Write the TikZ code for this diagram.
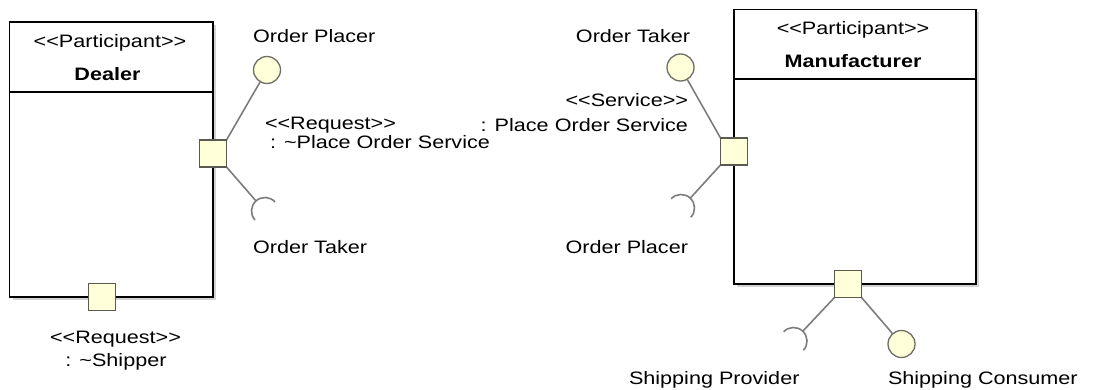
\documentclass[tikz,border=0pt]{standalone}
\usepackage{fontspec}
\newfontfamily\lsans{Liberation Sans}
\usetikzlibrary{shadows}
\definecolor{portfill}{HTML}{FFFFDA}
\definecolor{portdraw}{HTML}{5A5A52}
\definecolor{ifacedraw}{HTML}{6E6E66}
\definecolor{connc}{HTML}{7C7C7C}
\begin{document}
\begin{tikzpicture}[x=1pt,y=1pt,
  lbl/.style={font=\lsans\fontsize{18}{21}\selectfont, xscale=1.2, inner sep=0pt, outer sep=0pt},
  blbl/.style={font=\lsans\bfseries\fontsize{18}{21}\selectfont, xscale=1.2, inner sep=0pt, outer sep=0pt},
  partbox/.style={draw=black, line width=1.8pt, fill=white, inner sep=0pt, outer sep=0pt,
    drop shadow={shadow xshift=3pt, shadow yshift=-3pt, opacity=0.35}},
  sepline/.style={draw=black, line width=1.8pt},
  port/.style={draw=portdraw, line width=1.3pt, fill=portfill, minimum size=27pt, inner sep=0pt, outer sep=0pt},
  iface/.style={circle, draw=ifacedraw, line width=1.3pt, fill=portfill, minimum size=27pt, inner sep=0pt, outer sep=0pt},
  conn/.style={draw=connc, line width=1.6pt}
]
\useasboundingbox (0,0) rectangle (1094,-390);

% participant boxes
\node[partbox, minimum width=203.5, minimum height=275] (dealer) at (111.25,-159.5) {};
\draw[sepline] (dealer.west |- 0,-92) -- (dealer.east |- 0,-92);
\node[partbox, minimum width=242, minimum height=274.5] (manu) at (855,-146.75) {};
\draw[sepline] (manu.west |- 0,-79) -- (manu.east |- 0,-79);

\node[lbl, anchor=base] (dst) at (110,-48) {<<Participant>>};
\node[blbl, anchor=base] (dname) at (107.5,-81) {Dealer};
\node[lbl, anchor=base] (mst) at (853,-35) {<<Participant>>};
\node[blbl, anchor=base] (mname) at (853,-68) {Manufacturer};

% interface circles
\node[iface] (C1) at (267,-70) {};
\node[iface] (C2) at (680.5,-67.5) {};
\node[iface] (C3) at (901.5,-344) {};

% socket centres and apexes
\coordinate (S1c) at (265,-211);
\path (S1c) ++(131.9:13.5) coordinate (S1a);
\coordinate (S2c) at (681,-208);
\path (S2c) ++(46.7:13.5) coordinate (S2a);
\coordinate (S3c) at (793.5,-341);
\path (S3c) ++(46.7:13.5) coordinate (S3a);

% ports
\node[port] (P1) at (dealer.east |- 0,-153.5) {};
\node[port] (P4) at (102,-297) {};
\node[port] (P2) at (manu.west |- 0,-151.5) {};
\node[port] (P3) at (848,-284) {};

% connectors
\draw[conn] (P1.north east) -- (C1);
\draw[conn] (P1.south east) -- (S1a);
\draw[conn] (S1c) ++(41.9:13.5) arc[start angle=41.9, end angle=221.9, radius=13.5];
\draw[conn] (P2.north west) -- (C2);
\draw[conn] (P2.south west) -- (S2a);
\draw[conn] (S2c) ++(-43.3:13.5) arc[start angle=-43.3, end angle=136.7, radius=13.5];
\draw[conn] (P3.south east) -- (C3);
\draw[conn] (P3.south west) -- (S3a);
\draw[conn] (S3c) ++(-43.3:13.5) arc[start angle=-43.3, end angle=136.7, radius=13.5];

% redraw ports on top of connector ends
\node[port] at (P1) {};
\node[port] at (P2) {};
\node[port] at (P3) {};

% labels
\node[lbl, anchor=base west] (l1) at (253,-43) {Order Placer};
\node[lbl, anchor=base west] (l2) at (253,-253) {Order Taker};
\node[lbl, anchor=base west] (l3) at (265,-130) {<<Request>>};
\node[lbl, anchor=base west] (l4) at (270,-148.3) {: \textasciitilde Place Order Service};
\node[lbl, anchor=base east] (r1) at (690,-43) {Order Taker};
\node[lbl, anchor=base east] (r2) at (688,-106.7) {<<Service>>};
\node[lbl, anchor=base east] (r3) at (688,-131.7) {: Place Order Service};
\node[lbl, anchor=base east] (r4) at (688,-253) {Order Placer};
\node[lbl, anchor=base] (b1) at (115.5,-343.3) {<<Request>>};
\node[lbl, anchor=base] (b2) at (116,-366.7) {: \textasciitilde Shipper};
\node[lbl, anchor=base west] (s1) at (629,-384) {Shipping Provider};
\node[lbl, anchor=base west] (s2) at (888,-384) {Shipping Consumer};
\end{tikzpicture}
\end{document}
